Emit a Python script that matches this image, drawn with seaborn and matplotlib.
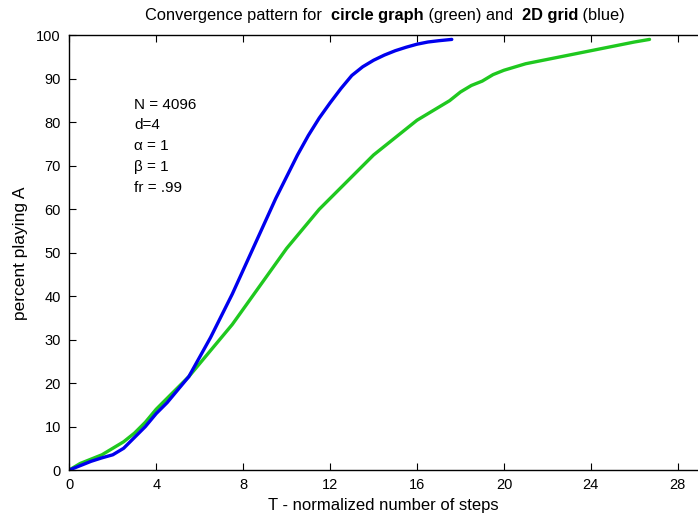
import numpy as np
import pandas as pd
import matplotlib
matplotlib.use("Agg")
import matplotlib.pyplot as plt
import seaborn as sns

# 2D grid (blue)
grid_t = [0, 0.5, 1, 1.5, 2, 2.5, 3, 3.5, 4, 4.5, 5, 5.5, 6, 6.5, 7, 7.5, 8, 8.5,
          9, 9.5, 10, 10.5, 11, 11.5, 12, 12.5, 13, 13.5, 14, 14.5, 15, 15.5, 16,
          16.5, 17, 17.6]
grid_pct = [0, 1, 2, 2.8, 3.5, 5, 7.5, 10, 13, 15.5, 18.5, 21.5, 26, 30.5, 35.5,
            40.5, 46, 51.5, 57, 62.5, 67.5, 72.5, 77, 81, 84.5, 87.8, 90.8, 92.8,
            94.3, 95.5, 96.5, 97.3, 98, 98.5, 98.8, 99.1]

# circle graph (green)
circle_t = [0, 0.5, 1, 1.5, 2, 2.5, 3, 3.5, 4, 4.5, 5, 5.5, 6, 6.5, 7, 7.5, 8,
            8.5, 9, 9.5, 10, 10.5, 11, 11.5, 12, 12.5, 13, 13.5, 14, 14.5, 15,
            15.5, 16, 16.5, 17, 17.5, 18, 18.5, 19, 19.5, 20, 21, 22, 23, 24, 25,
            26, 26.7]
circle_pct = [0, 1.5, 2.5, 3.5, 5, 6.5, 8.5, 11, 14, 16.5, 19, 21.5, 24.5, 27.5,
              30.5, 33.5, 37, 40.5, 44, 47.5, 51, 54, 57, 60, 62.5, 65, 67.5, 70,
              72.5, 74.5, 76.5, 78.5, 80.5, 82, 83.5, 85, 87, 88.5, 89.5, 91, 92,
              93.5, 94.5, 95.5, 96.5, 97.5, 98.5, 99.1]

x_ticks = [0, 4, 8, 12, 16, 20, 24, 28]
y_ticks = [0, 10, 20, 30, 40, 50, 60, 70, 80, 90, 100]
params = ["N = 4096", "d=4", "\u03b1 = 1", "\u03b2 = 1", "fr = .99"]

grid_df = pd.DataFrame({"t": grid_t, "pct": grid_pct})
circle_df = pd.DataFrame({"t": circle_t, "pct": circle_pct})

sns.set_theme(style="ticks")
plt.rcParams["font.family"] = ["Liberation Sans", "DejaVu Sans"]
plt.rcParams["text.color"] = "black"
plt.rcParams["axes.labelcolor"] = "black"

fig = plt.figure(figsize=(6.98, 5.19), dpi=100)
ax = fig.add_axes([0.0993, 0.0944, 0.9007, 0.8372])

sns.lineplot(data=circle_df, x="t", y="pct", color="#1fc81f", linewidth=2.4, ax=ax)
sns.lineplot(data=grid_df, x="t", y="pct", color="#0000ee", linewidth=2.4, ax=ax)

ax.set_xlim(0, 28.93)
ax.set_ylim(0, 100)
ax.set_xticks(x_ticks)
ax.set_yticks(y_ticks)
ax.tick_params(direction="in", length=5, width=0.8, labelsize=10.5, colors="black",
               top=True)
ax.tick_params(axis="x", pad=6)
ax.tick_params(axis="y", pad=6)
for s in ["left", "bottom", "top"]:
    ax.spines[s].set_linewidth(1.0)
    ax.spines[s].set_color("black")
ax.spines["right"].set_visible(False)

ax.set_xlabel("T - normalized number of steps", fontsize=12, labelpad=4)
ax.set_ylabel("percent playing A", fontsize=12.5, labelpad=6)

ax.text(0.103, 0.857, "\n".join(params), transform=ax.transAxes, fontsize=11,
        va="top", ha="left", linespacing=1.62)

# title with bold parts, chained piece by piece
pieces = [("Convergence pattern for  ", "normal"), ("circle graph", "bold"),
          (" (green) and  ", "normal"), ("2D grid", "bold"), (" (blue)", "normal")]
prev = fig.text(0.208, 0.962, pieces[0][0], fontsize=11.8, fontweight=pieces[0][1],
                va="baseline", ha="left")
for txt, w in pieces[1:]:
    prev = ax.annotate(txt, xy=(1, 0), xycoords=prev, va="bottom", ha="left",
                       fontsize=11.8, fontweight=w, annotation_clip=False)

fig.savefig("out.png", dpi=100)
